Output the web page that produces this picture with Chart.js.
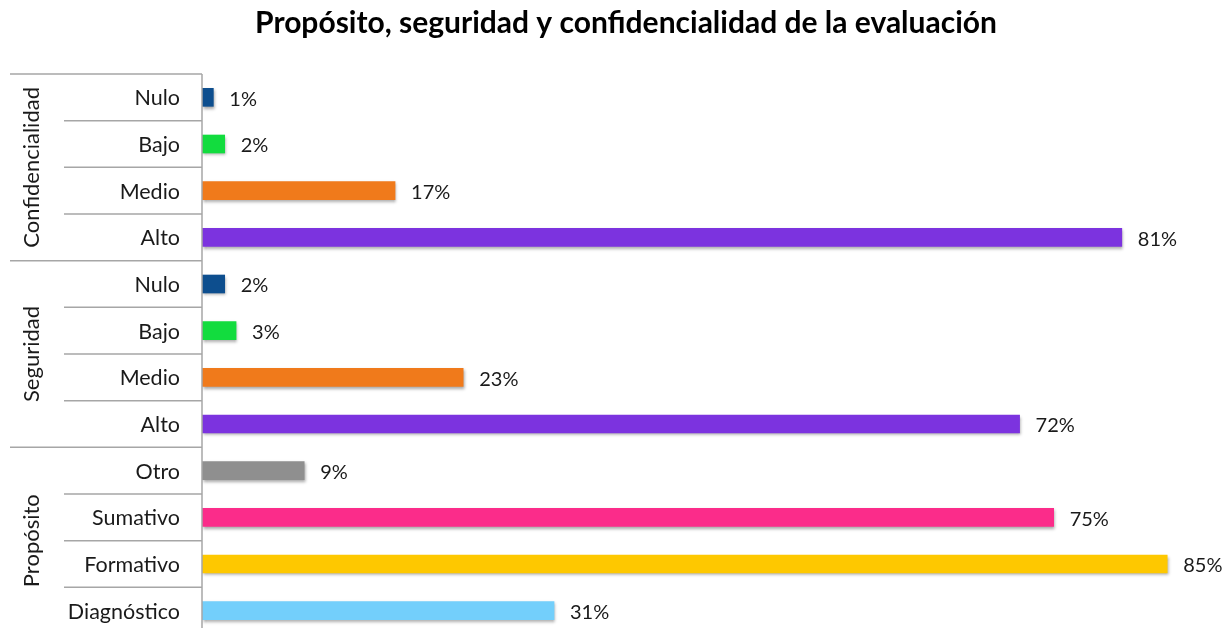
<!DOCTYPE html>
<html>
<head>
<meta charset="utf-8">
<script src="https://cdn.jsdelivr.net/npm/chart.js@4.4.0/dist/chart.umd.min.js"></script>
<style>
  html, body { margin: 0; padding: 0; background: #fff; overflow: hidden; }
  #wrap { width: 1226px; height: 640px; position: relative; }
</style>
</head>
<body>
<div id="wrap"><canvas id="grafica"></canvas></div>
<script>
// Categorías de arriba hacia abajo, agrupadas
const grupos = ["Confidencialidad", "Seguridad", "Propósito"]
const tamGrupos = [4, 4, 4]
const categorias = [
  "Nulo", "Bajo", "Medio", "Alto",
  "Nulo", "Bajo", "Medio", "Alto",
  "Otro", "Sumativo", "Formativo", "Diagnóstico"
]
const porcentajes = [1, 2, 17, 81, 2, 3, 23, 72, 9, 75, 85, 31]
const colores = [
  "#0d4e8e", "#12dc3e", "#f07a1b", "#7c33df",
  "#0d4e8e", "#12dc3e", "#f07a1b", "#7c33df",
  "#8f8f8f", "#fb2c8a", "#fec800", "#73cffb"
]

const FUENTE = "Lato, 'Open Sans', sans-serif"
const GRIS = "#a6a6a6"

// Etiquetas de categoría, grupos y líneas del eje a la izquierda
const ejeAgrupado = {
  id: "ejeAgrupado",
  afterDraw(chart) {
    const { ctx, chartArea, scales } = chart
    const y = scales.y
    const izq = chartArea.left
    const banda = y.getPixelForValue(1) - y.getPixelForValue(0)
    ctx.save()
    ctx.strokeStyle = GRIS
    ctx.lineWidth = 1.5
    // línea vertical del eje
    ctx.beginPath()
    ctx.moveTo(izq, chartArea.top)
    ctx.lineTo(izq, chartArea.bottom)
    ctx.stroke()

    ctx.fillStyle = "#1a1a1a"
    ctx.font = "21.5px " + FUENTE
    ctx.textAlign = "right"
    ctx.textBaseline = "middle"
    categorias.forEach((c, i) => {
      ctx.fillText(c, 180, y.getPixelForValue(i) + 1)
    })

    ctx.font = "22px " + FUENTE
    let inicio = 0
    grupos.forEach((g, k) => {
      const fin = inicio + tamGrupos[k]
      const yTop = y.getPixelForValue(inicio) - banda / 2
      const yBot = y.getPixelForValue(fin - 1) + banda / 2
      // separador del grupo
      ctx.beginPath()
      ctx.moveTo(10, yTop)
      ctx.lineTo(izq, yTop)
      ctx.stroke()
      // separadores internos
      for (let i = inicio + 1; i < fin; i++) {
        const yy = y.getPixelForValue(i) - banda / 2
        ctx.beginPath()
        ctx.moveTo(64, yy)
        ctx.lineTo(izq, yy)
        ctx.stroke()
      }
      ctx.save()
      ctx.translate(32, (yTop + yBot) / 2)
      ctx.rotate(-Math.PI / 2)
      ctx.textAlign = "center"
      ctx.fillText(g, 0, 0)
      ctx.restore()
      inicio = fin
    })
    ctx.restore()
  }
}

// Sombra suave bajo las barras
const sombraBarras = {
  id: "sombraBarras",
  beforeDatasetDraw(chart) {
    const ctx = chart.ctx
    ctx.save()
    ctx.shadowColor = "rgba(0,0,0,0.35)"
    ctx.shadowBlur = 3
    ctx.shadowOffsetX = 1
    ctx.shadowOffsetY = 2
  },
  afterDatasetDraw(chart) {
    chart.ctx.restore()
  }
}

// Porcentaje al final de cada barra
const valores = {
  id: "valores",
  afterDatasetsDraw(chart) {
    const { ctx } = chart
    const meta = chart.getDatasetMeta(0)
    ctx.save()
    ctx.fillStyle = "#1a1a1a"
    ctx.font = "20px " + FUENTE
    ctx.textAlign = "left"
    ctx.textBaseline = "middle"
    meta.data.forEach((barra, i) => {
      ctx.fillText(porcentajes[i] + "%", barra.x + 16, barra.y + 2)
    })
    ctx.restore()
  }
}

new Chart(document.getElementById("grafica"), {
  type: "bar",
  data: {
    labels: categorias,
    datasets: [{
      data: porcentajes,
      backgroundColor: colores,
      barThickness: 18,
      borderWidth: 0
    }]
  },
  options: {
    indexAxis: "y",
    responsive: true,
    maintainAspectRatio: false,
    animation: false,
    layout: { padding: { left: 28, right: 2, top: 0, bottom: 6 } },
    scales: {
      x: { display: false, min: 0, max: 90 },
      y: {
        // reserva el ancho de la columna de etiquetas
        afterFit(scale) { scale.width = 174 },
        ticks: { display: false },
        grid: { display: false },
        border: { display: false }
      }
    },
    plugins: {
      legend: { display: false },
      tooltip: { enabled: false },
      title: {
        display: true,
        text: "Propósito, seguridad y confidencialidad de la evaluación",
        color: "#000",
        font: { family: FUENTE, size: 30, weight: "bold" },
        padding: { top: 5, bottom: 33 }
      }
    }
  },
  plugins: [ejeAgrupado, sombraBarras, valores]
})
</script>
</body>
</html>
